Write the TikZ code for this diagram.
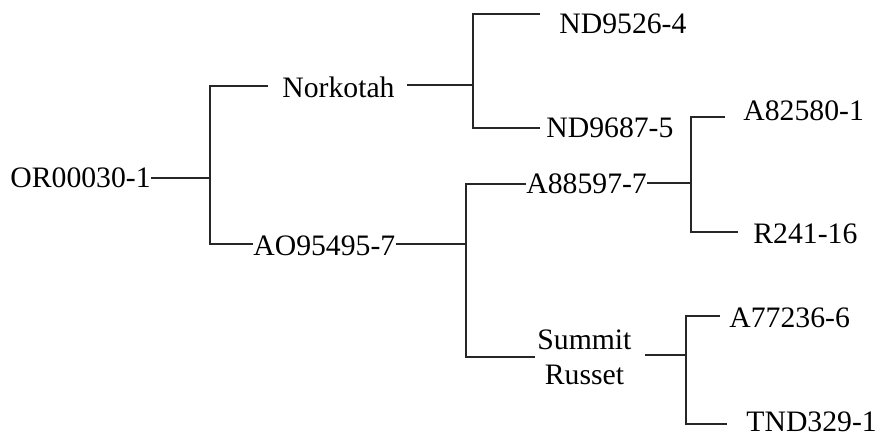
\documentclass[tikz,border=0pt]{standalone}
\usepackage{fontspec}
\setmainfont{Liberation Serif}
\usepackage{tikz}
\usetikzlibrary{calc}

\begin{document}
\begin{tikzpicture}[x=0.5pt,y=-0.5pt,
	clone/.style={anchor=west,inner sep=0pt,font=\fontsize{14.85}{17.5}\selectfont},
	branch/.style={line width=0.9pt,draw=black!85}]
	\useasboundingbox (0,0) rectangle (881,437);
	% clones
	\node[clone] (or) at (10,178) {OR00030-1};
	\node[clone] (nork) at (282,87) {Norkotah};
	\node[clone] (nd1) at (559,24) {ND9526-4};
	\node[clone] (nd2) at (546,128) {ND9687-5};
	\node[clone] (ao) at (253,246) {AO95495-7};
	\node[clone] (a885) at (526,184) {A88597-7};
	\node[clone] (a825) at (743,111) {A82580-1};
	\node[clone] (r241) at (753,234) {R241-16};
	\node[clone,align=center] (summit) at (537,357) {Summit\\Russet};
	\node[clone] (a772) at (729,318) {A77236-6};
	\node[clone] (tnd) at (746,422) {TND329-1};
	% junctions
	\coordinate (j1) at (210,178);
	\coordinate (j2) at (473,85);
	\coordinate (j3) at (466,244);
	\coordinate (j4) at (691,183);
	\coordinate (j5) at (686,355);
	% brackets
	\draw[branch] (or.east) -- (j1);
	\draw[branch] ([xshift=-7pt,yshift=0.5pt]nork.west) -| (j1) |- ([yshift=1pt]ao.west);
	\draw[branch] ([xshift=6pt,yshift=1pt]nork.east) -- (j2);
	\draw[branch] ([xshift=-9.5pt,yshift=5pt]nd1.west) -| (j2) |- ([xshift=-3pt]nd2.west);
	\draw[branch] ([yshift=1pt]ao.east) -- (j3);
	\draw[branch] (a885.west) -| (j3) |- ([xshift=-1pt]summit.west);
	\draw[branch] ([yshift=0.5pt]a885.east) -- (j4);
	\draw[branch] ([xshift=-9pt,yshift=-3pt]a825.west) -| (j4) |- ([xshift=-7.5pt,yshift=1pt]r241.west);
	\draw[branch] ([xshift=6.5pt,yshift=1pt]summit.east) -- (j5);
	\draw[branch] ([xshift=-4.5pt,yshift=1pt]a772.west) -| (j5) |- ([xshift=-9.5pt,yshift=-1pt]tnd.west);
\end{tikzpicture}
\end{document}
